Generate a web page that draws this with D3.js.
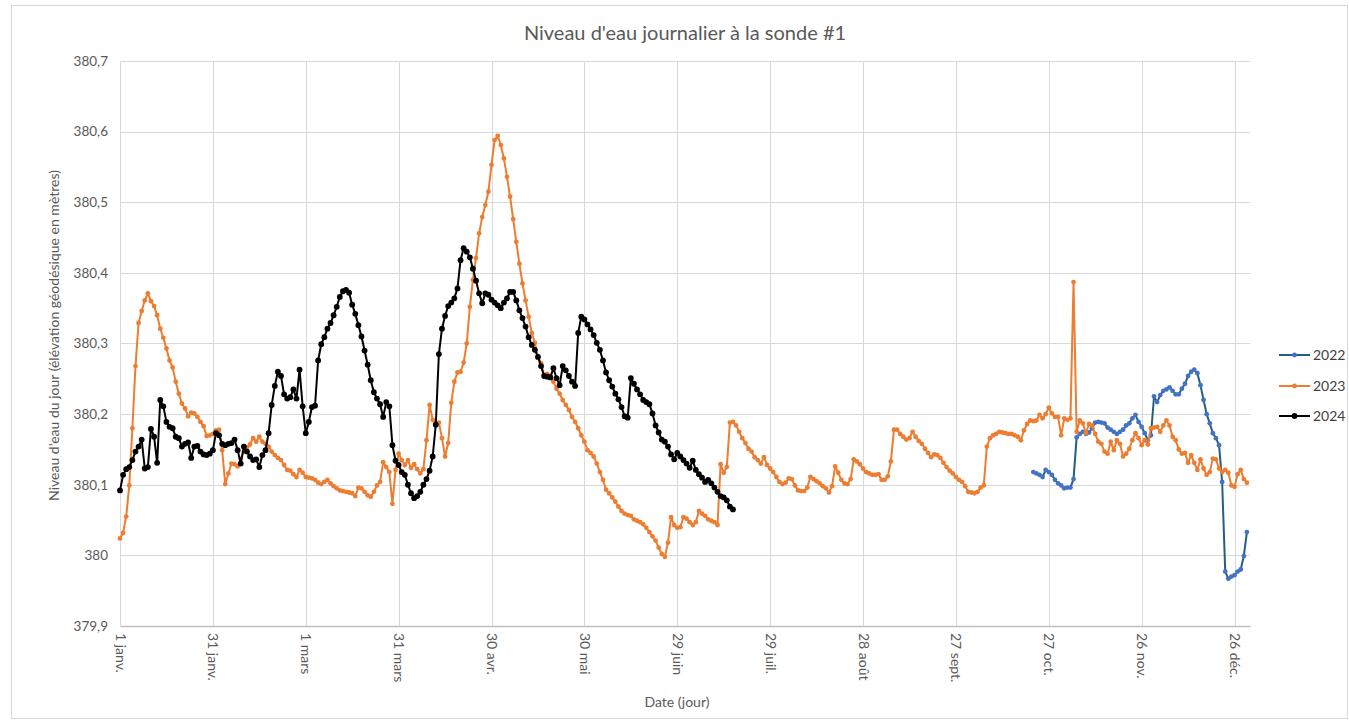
<!DOCTYPE html>
<html lang="fr">
<head>
<meta charset="utf-8">
<script src="https://cdn.jsdelivr.net/npm/d3@7/dist/d3.min.js"></script>
<style>
  html, body { margin: 0; padding: 0; background: #ffffff; }
  svg { display: block; font-family: Lato, "Liberation Sans", sans-serif; }
</style>
</head>
<body>
<svg id="chart" width="1349" height="721"></svg>
<script>
// Daily water level at probe #1, one value per day, x = day of year (0 = 1 Jan).
const seriesNames = ["2022", "2023", "2024"];
const seriesStart = [295, 0, 0];

const level2022 = [
  380.118,380.116,380.114,380.111,380.121,380.118,380.114,380.107,380.102,380.099,
  380.095,380.096,380.096,380.108,380.167,380.172,380.175,380.172,380.174,380.180,
  380.188,380.189,380.188,380.187,380.181,380.178,380.175,380.172,380.175,380.178,
  380.184,380.187,380.194,380.199,380.189,380.182,380.173,380.163,380.170,380.225,
  380.217,380.227,380.233,380.235,380.238,380.233,380.228,380.228,380.236,380.243,
  380.254,380.260,380.263,380.258,380.241,380.220,380.200,380.187,380.173,380.166,
  380.156,380.104,379.977,379.967,379.970,379.972,379.977,379.980,379.999,380.033
];

const level2023 = [
  380.024,380.032,380.055,380.099,380.180,380.268,380.329,380.346,380.361,380.371,
  380.360,380.353,380.340,380.321,380.308,380.293,380.276,380.266,380.246,380.229,
  380.215,380.208,380.197,380.202,380.201,380.196,380.189,380.183,380.169,380.170,
  380.172,380.177,380.178,380.149,380.101,380.116,380.130,380.129,380.126,380.137,
  380.147,380.153,380.157,380.166,380.161,380.168,380.161,380.158,380.154,380.147,
  380.142,380.138,380.135,380.128,380.121,380.120,380.115,380.111,380.121,380.117,
  380.111,380.110,380.109,380.107,380.103,380.101,380.104,380.107,380.102,380.098,
  380.095,380.092,380.091,380.090,380.089,380.088,380.084,380.096,380.095,380.090,
  380.085,380.083,380.090,380.099,380.104,380.132,380.125,380.118,380.073,380.121,
  380.144,380.135,380.128,380.135,380.124,380.129,380.122,380.116,380.122,380.163,
  380.213,380.192,380.187,380.188,380.166,380.140,380.159,380.216,380.246,380.259,
  380.260,380.273,380.300,380.352,380.390,380.421,380.456,380.479,380.496,380.515,
  380.553,380.588,380.594,380.581,380.562,380.536,380.508,380.476,380.444,380.413,
  380.385,380.361,380.338,380.315,380.301,380.281,380.272,380.255,380.257,380.254,
  380.246,380.236,380.229,380.220,380.213,380.206,380.196,380.189,380.180,380.170,
  380.161,380.149,380.145,380.140,380.130,380.118,380.107,380.093,380.088,380.082,
  380.076,380.069,380.063,380.059,380.057,380.056,380.051,380.049,380.047,380.044,
  380.039,380.033,380.027,380.021,380.011,380.002,379.998,380.018,380.054,380.043,
  380.039,380.040,380.054,380.052,380.047,380.043,380.047,380.063,380.059,380.056,
  380.051,380.049,380.047,380.043,380.129,380.117,380.125,380.188,380.189,380.184,
  380.175,380.166,380.159,380.151,380.147,380.139,380.135,380.130,380.139,380.128,
  380.123,380.118,380.111,380.104,380.101,380.103,380.109,380.108,380.099,380.092,
  380.091,380.091,380.096,380.111,380.108,380.105,380.102,380.098,380.095,380.089,
  380.098,380.126,380.117,380.107,380.102,380.101,380.108,380.136,380.133,380.129,
  380.123,380.118,380.116,380.114,380.114,380.115,380.107,380.107,380.112,380.133,
  380.178,380.178,380.172,380.168,380.164,380.166,380.175,380.168,380.162,380.158,
  380.151,380.145,380.139,380.143,380.142,380.138,380.131,380.125,380.120,380.116,
  380.111,380.107,380.104,380.098,380.090,380.089,380.088,380.090,380.096,380.099,
  380.154,380.166,380.170,380.172,380.175,380.174,380.173,380.172,380.172,380.170,
  380.168,380.163,380.177,380.186,380.191,380.190,380.191,380.199,380.194,380.200,
  380.209,380.201,380.196,380.196,380.170,380.194,380.192,380.194,380.387,380.175,
  380.191,380.187,380.173,380.186,380.184,380.172,380.161,380.158,380.147,380.144,
  380.161,380.149,380.163,380.158,380.140,380.144,380.151,380.163,380.173,380.166,
  380.156,380.163,380.157,380.180,380.181,380.182,380.175,380.184,380.191,380.184,
  380.168,380.163,380.150,380.144,380.145,380.131,380.142,380.131,380.121,380.136,
  380.123,380.114,380.118,380.137,380.136,380.123,380.118,380.121,380.117,380.099,
  380.097,380.115,380.121,380.108,380.103
];

const level2024 = [
  380.092,380.114,380.122,380.125,380.135,380.147,380.154,380.164,380.123,380.125,
  380.179,380.168,380.131,380.220,380.211,380.189,380.182,380.180,380.168,380.166,
  380.154,380.158,380.160,380.138,380.154,380.155,380.147,380.143,380.142,380.144,
  380.149,380.173,380.170,380.158,380.156,380.158,380.159,380.164,380.149,380.130,
  380.154,380.147,380.140,380.135,380.136,380.125,380.142,380.149,380.173,380.213,
  380.240,380.260,380.254,380.228,380.222,380.224,380.235,380.222,380.263,380.211,
  380.173,380.189,380.210,380.212,380.276,380.299,380.309,380.321,380.329,380.340,
  380.352,380.366,380.374,380.376,380.372,380.355,380.342,380.326,380.310,380.290,
  380.270,380.248,380.231,380.222,380.214,380.196,380.217,380.211,380.156,380.134,
  380.128,380.118,380.114,380.100,380.088,380.081,380.084,380.090,380.100,380.108,
  380.120,380.140,380.185,380.285,380.321,380.339,380.353,380.358,380.364,380.378,
  380.418,380.435,380.430,380.422,380.406,380.389,380.371,380.357,380.371,380.369,
  380.362,380.358,380.354,380.350,380.358,380.364,380.373,380.373,380.361,380.347,
  380.336,380.324,380.309,380.298,380.291,380.281,380.268,380.254,380.253,380.252,
  380.265,380.251,380.241,380.268,380.262,380.254,380.246,380.240,380.315,380.338,
  380.334,380.327,380.320,380.312,380.301,380.291,380.276,380.259,380.248,380.239,
  380.229,380.221,380.210,380.197,380.195,380.251,380.243,380.235,380.228,380.220,
  380.217,380.214,380.201,380.184,380.174,380.164,380.161,380.154,380.143,380.136,
  380.145,380.140,380.135,380.130,380.124,380.134,380.121,380.115,380.110,380.104,
  380.107,380.102,380.096,380.090,380.084,380.082,380.078,380.069,380.065
];

const xTickDays = [0, 30, 60, 90, 120, 150, 180, 210, 240, 270, 300, 330, 360];
const xTickLabels = ["1 janv.", "31 janv.", "1 mars", "31 mars", "30 avr.", "30 mai",
  "29 juin", "29 juil.", "28 août", "27 sept.", "27 oct.", "26 nov.", "26 déc."];
const yTicks = [379.9, 380.0, 380.1, 380.2, 380.3, 380.4, 380.5, 380.6, 380.7];

const lineColors = ["#255f80", "#ED7D31", "#000000"];
const markerColors = ["#4472C4", "#ED7D31", "#000000"];
const markerRadius = [2.4, 2.4, 2.9];

const svg = d3.select("#chart");
const W = 1349, H = 721;
const plot = { left: 120, right: 1250, top: 61, bottom: 626 };

const fr = d3.formatLocale({ decimal: ",", thousands: "\u00a0", grouping: [3], currency: ["", " €"] });
const yFmt = fr.format(".1~f");

const x = d3.scaleLinear().domain([0, 365]).range([plot.left, plot.right]);
const y = d3.scaleLinear().domain([379.9, 380.7]).range([plot.bottom, plot.top]);

// chart frame
svg.append("rect")
  .attr("x", 11.5).attr("y", 5.5).attr("width", W - 13).attr("height", H - 8)
  .attr("fill", "#ffffff").attr("stroke", "#d9d9d9").attr("stroke-width", 1);

// title
svg.append("text")
  .attr("x", 685).attr("y", 40)
  .attr("text-anchor", "middle")
  .attr("font-size", 20).attr("fill", "#595959")
  .text("Niveau d'eau journalier à la sonde #1");

// horizontal gridlines
svg.append("g")
  .selectAll("line").data(yTicks.slice(1)).join("line")
  .attr("x1", plot.left).attr("x2", plot.right)
  .attr("y1", d => Math.round(y(d)) + 0.5).attr("y2", d => Math.round(y(d)) + 0.5)
  .attr("stroke", "#d9d9d9").attr("stroke-width", 1);

// vertical gridlines
svg.append("g")
  .selectAll("line").data(xTickDays).join("line")
  .attr("x1", d => Math.round(x(d)) + 0.5).attr("x2", d => Math.round(x(d)) + 0.5)
  .attr("y1", plot.top).attr("y2", plot.bottom)
  .attr("stroke", "#d9d9d9").attr("stroke-width", 1);

// y axis labels
const yAxis = d3.axisLeft(y).tickValues(yTicks).tickFormat(yFmt).tickSize(0).tickPadding(12);
const gy = svg.append("g").attr("transform", `translate(${plot.left},0)`).call(yAxis);
gy.select(".domain").remove();
gy.selectAll("text").attr("font-size", 13.5).attr("fill", "#595959")
  .attr("font-family", "Lato, 'Liberation Sans', sans-serif");

// x axis (baseline + rotated date labels)
const xAxis = d3.axisBottom(x).tickValues(xTickDays)
  .tickFormat((d, i) => xTickLabels[i]).tickSize(0).tickPadding(0);
const gx = svg.append("g").attr("transform", `translate(0,${plot.bottom})`).call(xAxis);
gx.select(".domain").attr("stroke", "#bfbfbf").attr("stroke-width", 1.3);
gx.selectAll("text")
  .attr("font-size", 14).attr("fill", "#595959")
  .attr("font-family", "Lato, 'Liberation Sans', sans-serif")
  .attr("text-anchor", "start")
  .attr("transform", "rotate(90)")
  .attr("x", 7).attr("y", 0).attr("dy", "0.35em");

// axis titles
svg.append("text")
  .attr("transform", `translate(59,${(plot.top + plot.bottom) / 2 - 8}) rotate(-90)`)
  .attr("text-anchor", "middle").attr("font-size", 14).attr("fill", "#595959")
  .text("Niveau d'eau du jour (élévation géodésique en mètres)");
svg.append("text")
  .attr("x", 677).attr("y", 707)
  .attr("text-anchor", "middle").attr("font-size", 14).attr("fill", "#595959")
  .text("Date (jour)");

// series
const levels = [level2022, level2023, level2024];
const seriesData = levels.map((vals, s) => vals.map((v, i) => ({ day: seriesStart[s] + i, v })));

const line = d3.line().x(d => x(d.day)).y(d => y(d.v));
const gSeries = svg.append("g");
seriesData.forEach((pts, s) => {
  const g = gSeries.append("g");
  g.append("path").datum(pts)
    .attr("d", line).attr("fill", "none")
    .attr("stroke", lineColors[s]).attr("stroke-width", 2)
    .attr("stroke-linejoin", "round");
  g.selectAll("circle").data(pts).join("circle")
    .attr("cx", d => x(d.day)).attr("cy", d => y(d.v))
    .attr("r", markerRadius[s]).attr("fill", markerColors[s]);
});

// legend
const legendY = [355, 386, 416];
const lg = svg.append("g");
seriesNames.forEach((name, s) => {
  const row = lg.append("g").attr("transform", `translate(1279,${legendY[s]})`);
  row.append("line").attr("x1", 0).attr("x2", 31).attr("y1", 0).attr("y2", 0)
    .attr("stroke", lineColors[s]).attr("stroke-width", 2);
  row.append("circle").attr("cx", 15.5).attr("cy", 0).attr("r", markerRadius[s]).attr("fill", markerColors[s]);
  row.append("text").attr("x", 34).attr("y", 0).attr("dy", "0.35em")
    .attr("font-size", 14).attr("fill", "#404040").text(name);
});
</script>
</body>
</html>
